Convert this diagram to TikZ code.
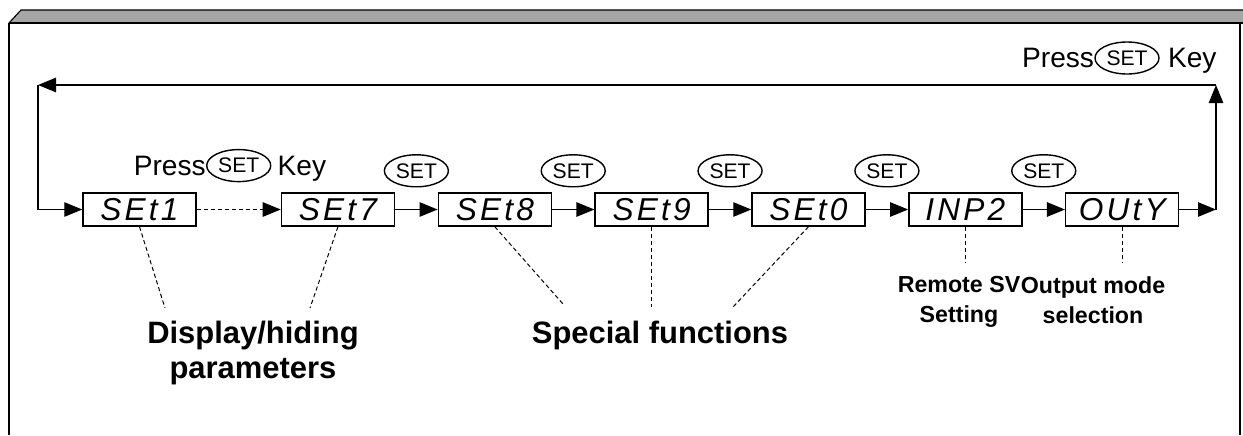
\documentclass[tikz,border=0pt]{standalone}
\usepackage{fontspec}
\setmainfont{Liberation Sans}
\newfontfamily\segfont[LetterSpace=10]{Liberation Sans}
\usetikzlibrary{positioning}
\usetikzlibrary{shapes.geometric}
\usetikzlibrary{arrows.meta}

\begin{document}
\begin{tikzpicture}[
    x = 0.025cm, y = -0.025cm,
    >={Triangle[length = 4.5mm, width = 3.6mm]},
    display/.style = {shape = rectangle, draw, line width = 1pt, minimum width = 2.825cm, minimum height = 0.825cm, inner sep = 0pt, font = \segfont\itshape\fontsize{22.5}{24}\selectfont},
    setkey/.style = {shape = ellipse, draw, solid, line width = 1pt, minimum width = 1.6cm, minimum height = 0.8cm, inner sep = 0pt, font = \fontsize{15}{17}\selectfont},
    presslbl/.style = {inner sep = 0pt, text depth = 0pt, font = \fontsize{20}{22}\selectfont},
    biglbl/.style = {inner sep = 0pt, align = center, font = \bfseries\fontsize{22}{25}\selectfont},
    smalllbl/.style = {inner sep = 0pt, align = center, font = \bfseries\fontsize{16.5}{21.3}\selectfont},
    link/.style = {densely dashed, line width = 0.7pt},
    flow/.style = {->, line width = 1pt},
    ]
    \useasboundingbox (0,0) rectangle (1243,435);
    % frame
    \fill[black!35] (21,10) -- (1243,10) -- (1243,23) -- (9,23) -- cycle;
    \draw[line width = 0.8pt] (1243,10) -- (21,10) -- (9,23);
    \draw[line width = 1.6pt] (9,23) -- (1243,23);
    \draw[line width = 1pt] (9,23) -- (9,435);
    \draw[line width = 1pt] (1240,23) -- (1240,435);

    % displays
    \node[display] (s1) at (139.5,209.5) {SEt1};
    \node[display] (s7) [right = 2.1cm of s1] {SEt7};
    \node[display] (s8) [right = 1.06cm of s7] {SEt8};
    \node[display] (s9) [right = 1.06cm of s8] {SEt9};
    \node[display] (s0) [right = 1.06cm of s9] {SEt0};
    \node[display] (i2) [right = 1.06cm of s0] {INP2};
    \node[display] (o7) [right = 1.06cm of i2] {OUtY};

    \path[flow] (s1) edge[densely dashed] node[setkey, above = 0.68cm] (k1) {SET} (s7);
    \path[flow] (s7) edge node[setkey, above = 0.55cm] (k2) {SET} (s8);
    \path[flow] (s8) edge node[setkey, above = 0.55cm] (k3) {SET} (s9);
    \path[flow] (s9) edge node[setkey, above = 0.55cm] (k4) {SET} (s0);
    \path[flow] (s0) edge node[setkey, above = 0.55cm] (k5) {SET} (i2);
    \path[flow] (i2) edge node[setkey, above = 0.55cm] (k6) {SET} (o7);

    \node[presslbl] (p1) [left = 0pt of k1] {Press};
    \node[presslbl] (y1) [right = 0.15cm of k1] {Key};

    % loop back
    \coordinate (br) at (1216,209.5);
    \coordinate (tr) at (1216,85);
    \coordinate (tl) at (38,85);
    \coordinate (bl) at (38,209.5);
    \draw[flow] (o7) -- (br);
    \draw[flow] (br) -- (tr);
    \draw[flow] (tr) -- (tl);
    \draw[flow] (tl) -- (bl) -- (s1);

    \node[setkey] (k7) at (1127,58) {SET};
    \node[presslbl] (p7) [left = 0pt of k7] {Press};
    \node[presslbl] (y7) [right = 0.2cm of k7] {Key};

    % labels
    \node[biglbl, anchor = north] (disp) at (253,321) {Display/hiding\\parameters};
    \node[biglbl, anchor = north] (spec) at (660,321) {Special functions};
    \node[smalllbl, anchor = north] (rsv) at (959,276) {Remote SV\\Setting};
    \node[smalllbl, anchor = north] (outm) at (1093,276) {Output mode\\selection};

    \coordinate (d1) at (165,308);
    \coordinate (d7) at (310,308);
    \coordinate (d8) at (563,304);
    \coordinate (d9) at (649,307);
    \coordinate (d0) at (733,307);
    \coordinate (di) at (959,262);
    \coordinate (do) at (1112,262);
    \draw[link] (s1.south) -- (d1);
    \draw[link] (s7.south) -- (d7);
    \draw[link] (s8.south) -- (d8);
    \draw[link] (s9.south) -- (s9.south |- d9);
    \draw[link] (s0.south) -- (d0);
    \draw[link] (i2.south) -- (i2.south |- di);
    \draw[link] (o7.south) -- (o7.south |- do);
\end{tikzpicture}
\end{document}
